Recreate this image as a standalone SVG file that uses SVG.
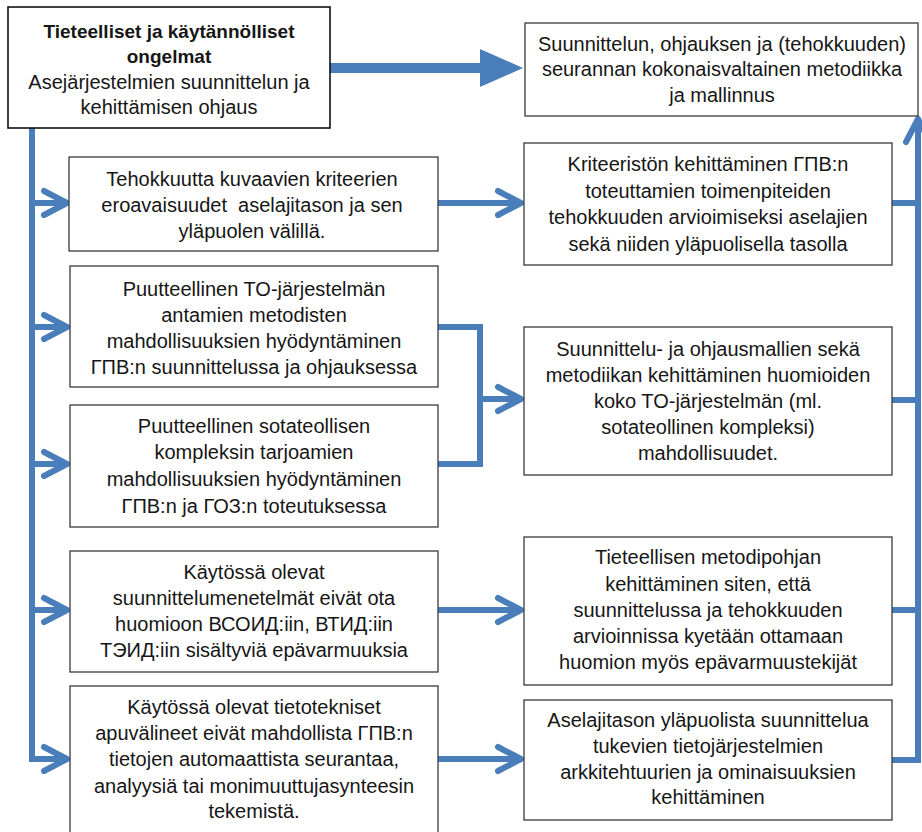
<svg xmlns="http://www.w3.org/2000/svg" width="922" height="832" viewBox="0 0 922 832">
  <style>
    .box { fill: #ffffff; stroke: #3a3a3a; stroke-width: 1.3; }
    .box-main { fill: #ffffff; stroke: #111111; stroke-width: 1.6; }
    .t { font-family: "Liberation Sans", Arial, sans-serif; font-size: 20px; fill: #161616; text-anchor: middle; }
    .tb { font-weight: bold; font-size: 19px; }
    .link { fill: none; stroke: #4A7EBB; stroke-width: 6; stroke-linejoin: miter; }
    .arrow { marker-end: url(#chev); }
  </style>
  <defs>
    <marker id="chev" markerUnits="userSpaceOnUse" markerWidth="40" markerHeight="40" viewBox="-30 -20 40 40" refX="0" refY="0" orient="auto">
      <path d="M-23,-12 L0,0 L-23,12" fill="none" stroke="#4A7EBB" stroke-width="6" stroke-linecap="round" stroke-linejoin="round"/>
    </marker>
  </defs>

  <rect width="922" height="832" fill="#ffffff"/>

  <!-- connectors -->
  <g id="connectors">
    <!-- thick arrow from the problem statement to the overall methodology -->
    <rect x="330" y="63" width="152" height="10" fill="#4A7EBB"/>
    <polygon points="480,49 523,68 480,87" fill="#4A7EBB"/>

    <!-- left trunk with branches to each problem -->
    <path class="link arrow" d="M32,128 V759 H67"/>
    <path class="link arrow" d="M32,203 H67"/>
    <path class="link arrow" d="M32,327 H67"/>
    <path class="link arrow" d="M32,464 H67"/>
    <path class="link arrow" d="M32,610 H67"/>

    <!-- problems to development tasks -->
    <path class="link arrow" d="M438,203 H521"/>
    <path class="link" d="M438,327 H480 V464 H438"/>
    <path class="link arrow" d="M480,399 H521"/>
    <path class="link arrow" d="M438,610 H521"/>
    <path class="link arrow" d="M438,759 H521"/>

    <!-- right collector up to the overall methodology -->
    <path class="link" d="M892,203 H918"/>
    <path class="link" d="M892,400 H918"/>
    <path class="link" d="M892,610 H918"/>
    <path class="link arrow" d="M892,760 H918 V119"/>
  </g>

  <!-- top-left: problem statement -->
  <g id="n-ongelmat">
    <rect class="box-main" x="8" y="7" width="322" height="121"/>
    <text class="t tb" x="169" y="38">Tieteelliset ja käytännölliset</text>
    <text class="t tb" x="169" y="63">ongelmat</text>
    <text class="t" x="169" y="89">Asejärjestelmien suunnittelun ja</text>
    <text class="t" x="169" y="114">kehittämisen ohjaus</text>
  </g>

  <!-- top-right: overall methodology -->
  <g id="n-metodiikka">
    <rect class="box" x="525" y="23" width="393" height="93"/>
    <text class="t" x="722" y="51">Suunnittelun, ohjauksen ja (tehokkuuden)</text>
    <text class="t" x="722" y="76">seurannan kokonaisvaltainen metodiikka</text>
    <text class="t" x="722" y="102">ja mallinnus</text>
  </g>

  <!-- left column: problems -->
  <g id="n-kriteerit">
    <rect class="box" x="69" y="157" width="369" height="94"/>
    <text class="t" x="252" y="186">Tehokkuutta kuvaavien kriteerien</text>
    <text class="t" x="252" y="212" xml:space="preserve">eroavaisuudet  aselajitason ja sen</text>
    <text class="t" x="252" y="238">yläpuolen välillä.</text>
  </g>

  <g id="n-to-jarjestelma">
    <rect class="box" x="70" y="266" width="368" height="121"/>
    <text class="t" x="254" y="296">Puutteellinen TO-järjestelmän</text>
    <text class="t" x="254" y="322">antamien metodisten</text>
    <text class="t" x="254" y="348">mahdollisuuksien hyödyntäminen</text>
    <text class="t" x="254" y="374">ГПВ:n suunnittelussa ja ohjauksessa</text>
  </g>

  <g id="n-sotateollinen">
    <rect class="box" x="70" y="405" width="368" height="122"/>
    <text class="t" x="254" y="433">Puutteellinen sotateollisen</text>
    <text class="t" x="254" y="459">kompleksin tarjoamien</text>
    <text class="t" x="254" y="486">mahdollisuuksien hyödyntäminen</text>
    <text class="t" x="254" y="513">ГПВ:n ja ГОЗ:n toteutuksessa</text>
  </g>

  <g id="n-menetelmat">
    <rect class="box" x="70" y="551" width="368" height="121"/>
    <text class="t" x="254" y="579">Käytössä olevat</text>
    <text class="t" x="254" y="605">suunnittelumenetelmät eivät ota</text>
    <text class="t" x="254" y="631">huomioon ВСОИД:iin, ВТИД:iin</text>
    <text class="t" x="254" y="657">ТЭИД:iin sisältyviä epävarmuuksia</text>
  </g>

  <g id="n-apuvalineet">
    <rect class="box" x="70" y="686" width="368" height="160"/>
    <text class="t" x="254" y="714">Käytössä olevat tietotekniset</text>
    <text class="t" x="254" y="740">apuvälineet eivät mahdollista ГПВ:n</text>
    <text class="t" x="254" y="766">tietojen automaattista seurantaa,</text>
    <text class="t" x="254" y="793">analyysiä tai monimuuttujasynteesin</text>
    <text class="t" x="254" y="818">tekemistä.</text>
  </g>

  <!-- right column: development tasks -->
  <g id="n-kriteeristo">
    <rect class="box" x="524" y="143" width="368" height="122"/>
    <text class="t" x="708" y="171">Kriteeristön kehittäminen ГПВ:n</text>
    <text class="t" x="708" y="198">toteuttamien toimenpiteiden</text>
    <text class="t" x="708" y="224">tehokkuuden arvioimiseksi aselajien</text>
    <text class="t" x="708" y="251">sekä niiden yläpuolisella tasolla</text>
  </g>

  <g id="n-mallit">
    <rect class="box" x="524" y="327" width="368" height="148"/>
    <text class="t" x="708" y="356">Suunnittelu- ja ohjausmallien sekä</text>
    <text class="t" x="708" y="382">metodiikan kehittäminen huomioiden</text>
    <text class="t" x="708" y="408">koko TO-järjestelmän (ml.</text>
    <text class="t" x="708" y="434">sotateollinen kompleksi)</text>
    <text class="t" x="708" y="460">mahdollisuudet.</text>
  </g>

  <g id="n-metodipohja">
    <rect class="box" x="524" y="537" width="368" height="148"/>
    <text class="t" x="708" y="564">Tieteellisen metodipohjan</text>
    <text class="t" x="708" y="591">kehittäminen siten, että</text>
    <text class="t" x="708" y="617">suunnittelussa ja tehokkuuden</text>
    <text class="t" x="708" y="643">arvioinnissa kyetään ottamaan</text>
    <text class="t" x="708" y="669">huomion myös epävarmuustekijät</text>
  </g>

  <g id="n-tietojarjestelmat">
    <rect class="box" x="524" y="700" width="368" height="120"/>
    <text class="t" x="708" y="727">Aselajitason yläpuolista suunnittelua</text>
    <text class="t" x="708" y="753">tukevien tietojärjestelmien</text>
    <text class="t" x="708" y="779">arkkitehtuurien ja ominaisuuksien</text>
    <text class="t" x="708" y="804">kehittäminen</text>
  </g>
</svg>
